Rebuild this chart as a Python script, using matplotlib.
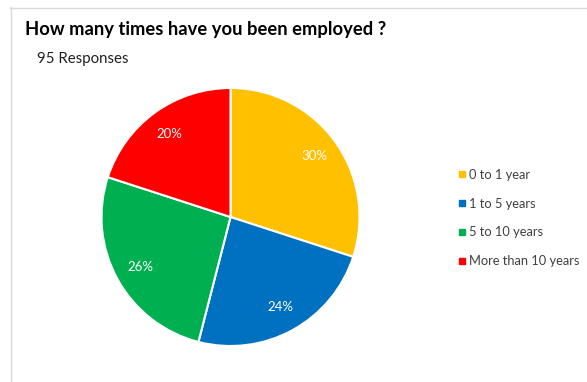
import matplotlib.pyplot as plt
from matplotlib.lines import Line2D

labels = ["0 to 1 year", "1 to 5 years", "5 to 10 years", "More than 10 years"]
shares = [30, 24, 26, 20]
colors = ["#FFC000", "#0070C0", "#00B050", "#FF0000"]

plt.rcParams["font.family"] = ["Lato", "DejaVu Sans"]

W, H = 587, 382
fig = plt.figure(figsize=(W / 100, H / 100), dpi=100)

# thin frame around the chart area
fig.add_artist(Line2D([10.5 / W, 10.5 / W], [0, 1 - 7 / H], color="#d9d9d9", lw=1))
fig.add_artist(Line2D([10 / W, 1], [1 - 7.5 / H, 1 - 7.5 / H], color="#d9d9d9", lw=1))

fig.text(25 / W, 1 - 30 / H, "How many times have you been employed ?",
         fontsize=13.2, fontweight="bold", va="center", ha="left")
fig.text(37 / W, 1 - 59 / H, "95 Responses", fontsize=10.8, va="center", ha="left",
         color="#202020")

cx, cy, r = 230.5, 217, 129
ax = fig.add_axes([(cx - r) / W, (H - cy - r) / H, 2 * r / W, 2 * r / H])
wedges, _, autotexts = ax.pie(
    shares, colors=colors, startangle=90, counterclock=False,
    autopct=lambda p: f"{p:.0f}%", pctdistance=0.8,
    wedgeprops=dict(edgecolor="white", linewidth=1.5),
    textprops=dict(color="white", fontsize=9.5))
ax.set_xlim(-1, 1)
ax.set_ylim(-1, 1)

handles = [Line2D([], [], marker="s", ls="", color=c, markersize=4.5) for c in colors]
fig.legend(handles, labels, loc="center left", bbox_to_anchor=(446 / W, 1 - 218 / H),
           frameon=False, fontsize=9.3, handlelength=0.6, handletextpad=0.25,
           labelspacing=1.3, labelcolor="#404040")

fig.savefig("out.png", dpi=100)
